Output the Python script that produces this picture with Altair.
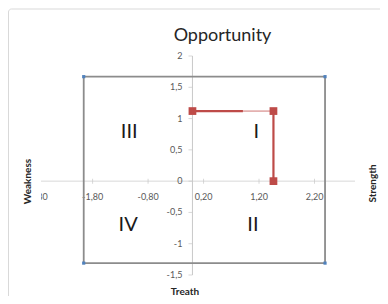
import altair as alt
import pandas as pd

# ---- data ----
x_ticks = [-2.8, -1.8, -0.8, 0.2, 1.2, 2.2]
x_tick_labels = ["-2,80", "-1,80", "-0,80", "0,20", "1,20", "2,20"]
y_ticks = [-1.5, -1.0, -0.5, 0.0, 0.5, 1.0, 1.5, 2.0]
y_tick_labels = ["-1,5", "-1", "-0,5", "0", "0,5", "1", "1,5", "2"]

box_x = [-1.96, 2.39, 2.39, -1.96, -1.96]
box_y = [1.67, 1.67, -1.31, -1.31, 1.67]

red_x = [0.0, 1.46, 1.46]
red_y = [1.12, 1.12, 0.0]
red_split_x = 0.91

quad_labels = ["III", "I", "IV", "II"]
quad_x = [-1.14, 1.15, -1.16, 1.09]
quad_y = [0.79, 0.79, -0.70, -0.70]

# ---- layout ----
xmin, xmax = -2.73, 2.93
ymin, ymax = -1.5, 2.0
W, H = 314, 219
FONT = "Lato"
RED = "#be4b48"

xs = alt.Scale(domain=[xmin, xmax], nice=False, zero=False)
ys = alt.Scale(domain=[ymin, ymax], nice=False, zero=False)

box_df = pd.DataFrame({"x": box_x, "y": box_y, "o": range(len(box_x))})
corner_df = pd.DataFrame({"x": box_x[:4], "y": box_y[:4]})
red_df = pd.DataFrame({"x": red_x, "y": red_y})
thick_df = pd.DataFrame({
    "x": [red_x[0], red_split_x, red_x[1], red_x[2]],
    "y": [red_y[0], red_y[0], red_y[1], red_y[2]],
    "seg": ["a", "a", "c", "c"],
    "o": [0, 1, 0, 1],
})
thin_df = pd.DataFrame({"x": [red_split_x, red_x[1]], "y": [red_y[0], red_y[1]], "o": [0, 1]})
xt_df = pd.DataFrame({"v": x_ticks, "t": x_tick_labels})
yt_df = pd.DataFrame({"v": y_ticks, "t": y_tick_labels})
q_df = pd.DataFrame({"x": quad_x, "y": quad_y, "t": quad_labels})

title_font = dict(titleFont=FONT, titleFontSize=10, titleFontWeight="bold", titleColor="#262626")

border = alt.Chart(alt.Data(values=[{}])).mark_rect(
    filled=False, stroke="#d9d9d9", strokeWidth=1, cornerRadius=3
).encode(
    x=alt.value(-32.5), x2=alt.value(W + 80), y=alt.value(-47), y2=alt.value(H + 80)
)

xaxis_line = alt.Chart(alt.Data(values=[{}])).mark_rule(color="#d9d9d9", strokeWidth=1).encode(
    y=alt.YDatum(0, scale=ys, axis=None), x=alt.value(0), x2=alt.value(W)
)
yaxis_line = alt.Chart(alt.Data(values=[{}])).mark_rule(color="#c8c8c8", strokeWidth=1).encode(
    x=alt.XDatum(0, scale=xs, axis=None), y=alt.value(0), y2=alt.value(H)
)

x_tick_marks = alt.Chart(xt_df).mark_tick(
    orient="vertical", size=5, thickness=1, color="#c8c8c8", clip=True
).encode(
    x=alt.X("v:Q", scale=xs, axis=None), y=alt.YDatum(0, scale=ys, axis=None)
)
y_tick_marks = alt.Chart(yt_df).mark_tick(
    orient="horizontal", size=4, thickness=1, color="#c8c8c8", xOffset=-2
).encode(
    y=alt.Y("v:Q", scale=ys, axis=None), x=alt.XDatum(0, scale=xs, axis=None)
)

x_tick_text = alt.Chart(xt_df).mark_text(
    dy=16, clip=True, font=FONT, fontSize=9, color="#595959", baseline="middle"
).encode(
    x=alt.X("v:Q", scale=xs, axis=None), y=alt.YDatum(0, scale=ys, axis=None), text="t:N"
)
y_tick_text = alt.Chart(yt_df).mark_text(
    dx=-10, align="right", font=FONT, fontSize=9, color="#595959", baseline="middle"
).encode(
    y=alt.Y("v:Q", scale=ys, axis=None), x=alt.XDatum(0, scale=xs, axis=None), text="t:N"
)

# x axis title ("Treath"), placed under the plot area
x_title = alt.Chart(alt.Data(values=[{"t": "Treath"}])).mark_text(
    font=FONT, fontSize=10, fontWeight="bold", color="#262626", baseline="middle", align="center"
).encode(x=alt.value(144), y=alt.value(H + 17), text="t:N")

box_line = alt.Chart(box_df).mark_line(color="#8c8c8c", strokeWidth=1.8).encode(
    x=alt.X("x:Q", scale=xs, axis=None),
    y=alt.Y("y:Q", scale=ys, axis=alt.Axis(
        title="Weakness", orient="left", labels=False, ticks=False, domain=False, grid=False,
        titleX=-14, titleY=125, titleAngle=270, titleBaseline="middle", titleAlign="center",
        **title_font)),
    order="o:O",
)
corners = alt.Chart(corner_df).mark_point(
    shape="square", filled=True, size=10, color="#4f81bd", opacity=1
).encode(x=alt.X("x:Q", scale=xs, axis=None), y=alt.Y("y:Q", scale=ys, axis=None))

red_thick = alt.Chart(thick_df).mark_line(color=RED, strokeWidth=2.2).encode(
    x=alt.X("x:Q", scale=xs, axis=None),
    y=alt.Y("y:Q", scale=ys, axis=None),
    detail="seg:N",
    order="o:O",
)
red_thin = alt.Chart(thin_df).mark_line(color="#cf7573", strokeWidth=1).encode(
    x=alt.X("x:Q", scale=xs, axis=None),
    y=alt.Y("y:Q", scale=ys, axis=None),
    order="o:O",
)
red_pts = alt.Chart(red_df).mark_point(
    shape="square", filled=True, size=60, color=RED, opacity=1
).encode(x=alt.X("x:Q", scale=xs, axis=None), y=alt.Y("y:Q", scale=ys, axis=None))

quads = alt.Chart(q_df).mark_text(
    font=FONT, fontSize=20, color="#1a1a1a", baseline="middle"
).encode(
    x=alt.X("x:Q", scale=xs, axis=None),
    y=alt.Y("y:Q", scale=ys, axis=alt.Axis(
        title="Strength", orient="right", labels=False, ticks=False, domain=False, grid=False,
        titleX=17, titleY=127, titleAngle=270, titleBaseline="middle", titleAlign="center",
        **title_font)),
    text="t:N",
)

chart = alt.layer(
    border, xaxis_line, yaxis_line, x_tick_marks, y_tick_marks, x_tick_text, y_tick_text,
    x_title, box_line, corners, red_thin, red_thick, red_pts, quads,
).resolve_axis(y="independent").properties(
    width=W, height=H,
    background="white",
    autosize=alt.AutoSizeParams(type="none"),
    padding={"left": 33, "top": 48, "right": 25, "bottom": 21},
    title=alt.TitleParams(
        "Opportunity", font=FONT, fontSize=18, fontWeight="normal", color="#262626",
        anchor="middle", frame="group", dx=24.5, offset=-50.8, baseline="alphabetic",
    ),
).configure_view(stroke=None)

chart.save("out.html", embed_options={"renderer": "svg", "actions": False})
